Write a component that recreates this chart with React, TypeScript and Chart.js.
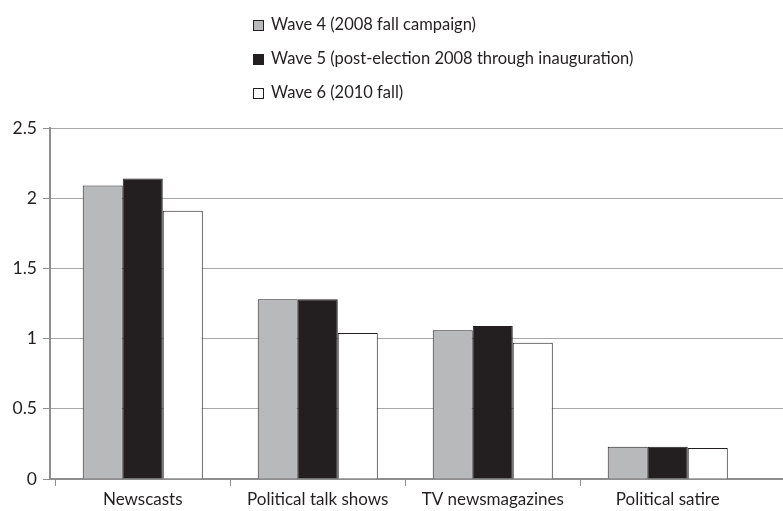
import React, { useEffect, useRef } from "react";
import { Chart, registerables } from "chart.js";

Chart.register(...registerables);

const categories = ["Newscasts", "Political talk shows", "TV newsmagazines", "Political satire"];
const wave4 = [2.09, 1.28, 1.06, 0.23];
const wave5 = [2.14, 1.28, 1.09, 0.23];
const wave6 = [1.91, 1.04, 0.97, 0.22];
const seriesLabels = [
  "Wave 4 (2008 fall campaign)",
  "Wave 5 (post-election 2008 through inauguration)",
  "Wave 6 (2010 fall)",
];
const yTicks = [0, 0.5, 1, 1.5, 2, 2.5];

const FONT = "Lato, 'Open Sans', sans-serif";
const TEXT = "#231f20";
const EDGE = "#231f20";
const AXIS = "#8e8e8e";

const legendPlugin = {
  id: "stackedLegend",
  afterDraw(chart: any) {
    const ctx = chart.ctx;
    ctx.save();
    ctx.font = `16.5px ${FONT}`;
    ctx.textBaseline = "middle";
    ctx.textAlign = "left";
    chart.data.datasets.forEach((ds: any, i: number) => {
      const y = 25 + i * 34;
      const x = 253;
      ctx.fillStyle = ds.backgroundColor;
      ctx.fillRect(x, y - 5, 10, 10);
      ctx.strokeStyle = EDGE;
      ctx.lineWidth = 1;
      ctx.strokeRect(x + 0.5, y - 4.5, 10, 10);
      ctx.fillStyle = TEXT;
      ctx.fillText(ds.label, x + 18, y);
    });
    ctx.restore();
  },
};

export default function App() {
  const ref = useRef<HTMLCanvasElement | null>(null);
  useEffect(() => {
    if (!ref.current) return;
    const chart = new Chart(ref.current, {
      type: "bar",
      data: {
        labels: categories,
        datasets: [
          { label: seriesLabels[0], data: wave4, backgroundColor: "#b8b9bb", borderColor: EDGE, borderWidth: 1 },
          { label: seriesLabels[1], data: wave5, backgroundColor: "#231f20", borderColor: EDGE, borderWidth: 1 },
          { label: seriesLabels[2], data: wave6, backgroundColor: "#ffffff", borderColor: EDGE, borderWidth: 1 },
        ],
      },
      options: {
        responsive: false,
        animation: false,
        devicePixelRatio: 1,
        layout: { padding: { top: 128, right: 0, bottom: 0, left: 0 } },
        datasets: { bar: { categoryPercentage: 0.686, barPercentage: 1 } },
        plugins: {
          legend: { display: false },
          tooltip: { enabled: false },
          title: { display: false },
        },
        scales: {
          x: {
            afterBuildTicks: (s: any) => {
              // category band of ~175px inside a 733px wide plot area
              s._startValue = -0.53;
              s._valueRange = 733 / 175;
            },
            grid: {
              offset: true,
              drawOnChartArea: false,
              drawTicks: true,
              tickLength: 7,
              color: AXIS,
              tickColor: (c: any) => (c.type === "tick" ? AXIS : "rgba(0,0,0,0)"),
              tickWidth: (c: any) => (c.type === "tick" ? 1 : 0),
            },
            border: { color: AXIS, width: 2 },
            ticks: {
              color: TEXT,
              font: { family: FONT, size: 17 },
              padding: 3,
              maxRotation: 0,
              autoSkip: false,
            },
            afterFit: (s: any) => {
              s.height = 32;
            },
          },
          y: {
            min: 0,
            max: 2.5,
            afterBuildTicks: (s: any) => {
              s.ticks = yTicks.map((v) => ({ value: v }));
            },
            grid: {
              color: "#a8a8a8",
              lineWidth: 1,
              drawTicks: true,
              tickLength: 7,
              tickColor: AXIS,
            },
            border: { color: AXIS, width: 2 },
            ticks: {
              color: TEXT,
              font: { family: FONT, size: 17.5 },
              padding: 6,
              callback: (v: any) => String(v),
            },
            afterFit: (s: any) => {
              s.width = 50;
            },
          },
        },
      },
      plugins: [legendPlugin],
    });
    return () => chart.destroy();
  }, []);
  return (
    <div style={{ position: "absolute", left: 0, top: 0, width: 783, height: 511, background: "#fff" }}>
      <canvas ref={ref} width={783} height={511} />
    </div>
  );
}
